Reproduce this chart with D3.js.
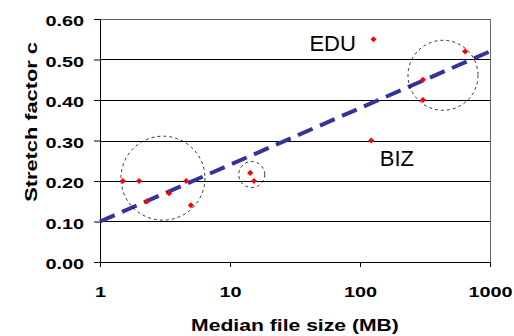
<!DOCTYPE html>
<html>
<head>
<meta charset="utf-8">
<script src="https://cdn.jsdelivr.net/npm/d3@7"></script>
<style>
  body { margin: 0; background: #fff; }
  svg { display: block; font-family: "Liberation Sans", Arial, sans-serif; }
</style>
</head>
<body>
<div id="chart"></div>
<script>
// Data
const fileSize = [1.5, 2, 4.6, 2.3, 3.4, 5.0, 14.3, 15.3, 127, 122, 305, 305, 643];
const stretch  = [0.20, 0.20, 0.20, 0.15, 0.17, 0.14, 0.22, 0.20, 0.55, 0.30, 0.45, 0.40, 0.52];

// Fitted trend line (end points)
const fitX = [1, 1000];
const fitY = [0.10, 0.52];

// Cluster circles: centre in data units, radius in px
const clusterX = [3.05, 14.7, 435];
const clusterY = [0.207, 0.216, 0.461];
const clusterR = [42, 13, 35];

// Text annotations
const noteText = ["EDU", "BIZ"];
const noteX = [93, 142];
const noteY = [0.522, 0.236];
const noteAnchor = ["end", "start"];

const xTicks = [1, 10, 100, 1000];
const yTicks = [0, 0.1, 0.2, 0.3, 0.4, 0.5, 0.6];

// Chart dimensions
const W = 514, H = 336;
const margin = { top: 19, right: 24, bottom: 74, left: 100 };
const width = W - margin.left - margin.right;
const height = H - margin.top - margin.bottom;
const stretchX = 1.28; // glyphs in the reference are wider than the font

const x = d3.scaleLog().domain([1, 1000]).range([0, width]);
const y = d3.scaleLinear().domain([0, 0.6]).range([height, 0]);

const svg = d3.select("#chart").append("svg")
    .attr("width", W)
    .attr("height", H);

const g = svg.append("g")
    .attr("transform", `translate(${margin.left},${margin.top})`);

// Horizontal gridlines
g.append("g")
    .selectAll("line")
    .data(yTicks.slice(1))
    .join("line")
        .attr("x1", 0)
        .attr("x2", width)
        .attr("y1", d => Math.round(y(d)) + 0.5)
        .attr("y2", d => Math.round(y(d)) + 0.5)
        .attr("stroke", d => d === 0.6 ? "#666" : "#000")
        .attr("stroke-width", 1);

// Right border of plot area
g.append("line")
    .attr("x1", width + 0.5).attr("x2", width + 0.5)
    .attr("y1", 0).attr("y2", height)
    .attr("stroke", "#666");

// Axes
const xAxis = g.append("g")
    .attr("transform", `translate(0,${height})`)
    .call(d3.axisBottom(x).tickValues(xTicks).tickFormat(d3.format("d")).tickSizeInner(5).tickSizeOuter(0));

const yAxis = g.append("g")
    .call(d3.axisLeft(y).tickValues(yTicks).tickFormat(d3.format(".2f")).tickSizeInner(6).tickSizeOuter(0));

[xAxis, yAxis].forEach(a => {
    a.select(".domain").attr("stroke", "#000");
    a.selectAll(".tick line").attr("stroke", "#000");
    a.selectAll("text")
        .attr("font-family", "Liberation Sans, Arial, sans-serif")
        .attr("font-size", 15.5)
        .attr("font-weight", "bold")
        .attr("fill", "#000");
});
xAxis.selectAll("text").attr("y", 24);
yAxis.selectAll("text").attr("x", -16).attr("dy", "0.42em");

// Trend line
const line = d3.line()
    .x(d => x(d[0]))
    .y(d => y(d[1]));

g.append("path")
    .datum(d3.zip(fitX, fitY))
    .attr("fill", "none")
    .attr("stroke", "#333399")
    .attr("stroke-width", 4)
    .attr("stroke-dasharray", "16,8")
    .attr("d", line);

// Cluster circles
g.append("g")
    .selectAll("circle")
    .data(d3.range(clusterX.length))
    .join("circle")
        .attr("cx", i => x(clusterX[i]))
        .attr("cy", i => y(clusterY[i]))
        .attr("r", i => clusterR[i])
        .attr("fill", "none")
        .attr("stroke", "#000")
        .attr("stroke-width", 0.8)
        .attr("stroke-dasharray", "3,3");

// Points (red diamonds)
g.append("g")
    .selectAll("path")
    .data(d3.zip(fileSize, stretch))
    .join("path")
        .attr("transform", d => `translate(${x(d[0])},${y(d[1])})`)
        .attr("d", d3.symbol(d3.symbolDiamond2, 24))
        .attr("fill", "#ff0000");

// Annotations
g.append("g")
    .selectAll("text")
    .data(d3.range(noteText.length))
    .join("text")
        .attr("x", i => x(noteX[i]))
        .attr("y", i => y(noteY[i]))
        .attr("text-anchor", i => noteAnchor[i])
        .attr("font-size", 22)
        .attr("fill", "#000")
        .text(i => noteText[i]);

// Axis titles
svg.append("text")
    .attr("x", margin.left + width / 2)
    .attr("y", 331)
    .attr("text-anchor", "middle")
    .attr("font-size", 16.5)
    .attr("font-weight", "bold")
    .text("Median file size (MB)");

svg.append("text")
    .attr("transform", "translate(37,122) rotate(-90)")
    .attr("text-anchor", "middle")
    .attr("font-size", 17)
    .attr("font-weight", "bold")
    .text("Stretch factor c");

// Widen bold texts to match reference glyph proportions
svg.selectAll("text").filter(function () { return d3.select(this).attr("font-weight") === "bold"; })
    .each(function () {
        const len = this.getComputedTextLength();
        d3.select(this).attr("textLength", len * stretchX).attr("lengthAdjust", "spacingAndGlyphs");
    });
</script>
</body>
</html>
